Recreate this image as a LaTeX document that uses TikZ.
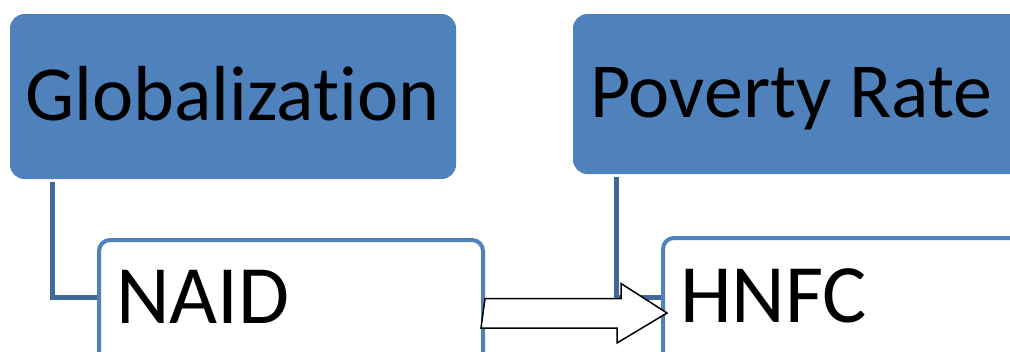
\documentclass[tikz,border=0pt]{standalone}
\usepackage{fontspec}
\setmainfont[Ligatures=NoCommon]{Carlito}
\definecolor{accent}{HTML}{4F81BD}
\definecolor{conn}{HTML}{41689A}
\tikzset{
  topbox/.style={fill=accent, draw=accent, line width=1pt, rounded corners=14pt, anchor=north west, inner sep=0pt},
  subbox/.style={fill=white, draw=accent, line width=4pt, rounded corners=11pt, anchor=north west, inner sep=0pt},
  lbl/.style={anchor=base west, inner sep=0pt, text=black},
  toplbl/.style={lbl, font=\fontsize{78}{90}\selectfont},
  sublbl/.style={lbl, font=\fontsize{83}{90}\selectfont},
  connector/.style={draw=conn, line width=5pt},
  blockarrow/.style={draw=black, fill=white, line width=1.5pt, line join=miter}
}
\begin{document}
\begin{tikzpicture}[x=1pt,y=-1pt]
\useasboundingbox (0,0) rectangle (1010,351);
\clip (0,0) rectangle (1010,351);
% top boxes
\node[topbox, minimum width=445pt, minimum height=164pt] (glob) at (10,14) {};
\node[topbox, minimum width=480pt, minimum height=159pt] (pov) at (573,14) {};
% sub boxes
\node[subbox, minimum width=384pt, minimum height=160pt] (naid) at (97,238) {};
\node[subbox, minimum width=400pt, minimum height=160pt] (hnfc) at (661,236) {};
% connectors
\draw[connector] ([xshift=42pt,yshift=-3pt]glob.south west) |- ([yshift=-59pt]naid.north west);
\draw[connector] ([xshift=43pt,yshift=-3pt]pov.south west) |- ([yshift=-61pt]hnfc.north west);
% labels
\node[toplbl] (globt) at (25,120) {Globalization};
\node[toplbl] (povt) at (590,117) {Poverty Rate};
\node[sublbl] (naidt) at (116,323) {NAID};
\node[sublbl] (hnfct) at (680,322) {HNFC};
% block arrow
\coordinate (as) at (naid.east |- 0,313);
\coordinate (at) at (667,313);
\draw[blockarrow] (as) ++(0,-14.5) -- ++(136,0) -- ++(0,-15) -- (at) -- ++(-50,30) -- ++(0,-15) -- ++(-136,0) -- cycle;
\end{tikzpicture}
\end{document}
